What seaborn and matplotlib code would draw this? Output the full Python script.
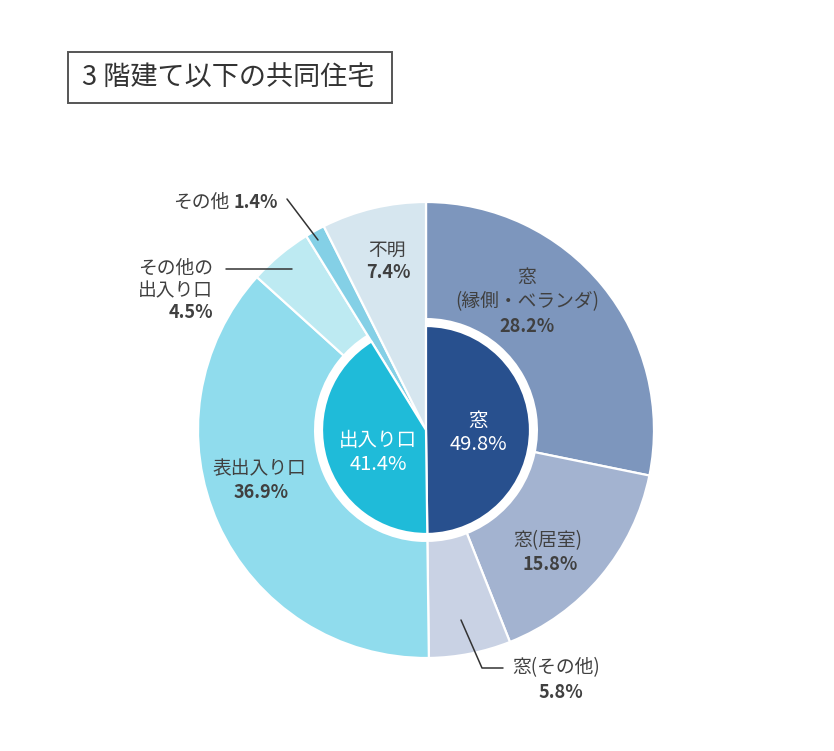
import matplotlib
matplotlib.use("Agg")
import matplotlib.pyplot as plt
from matplotlib.patches import Rectangle
import seaborn as sns

# ---------------- data ----------------
title = "3 階建て以下の共同住宅"
outer_labels = ["窓\n(縁側・ベランダ)", "窓(居室)", "窓(その他)", "表出入り口",
                "その他の\n出入り口", "その他", "不明"]
outer_values = [28.2, 15.8, 5.8, 36.9, 4.5, 1.4, 7.4]
outer_colors = ["#7d96bd", "#a3b3d0", "#c9d2e4", "#90dced", "#bdeaf2", "#84d0e6", "#d6e6ef"]
inner_labels = ["窓", "出入り口"]
inner_values = [49.8, 41.4]
inner_colors = ["#28508e", "#1fbbd9"]

# ---------------- style ----------------
sns.set_theme(style="white")
plt.rcParams["font.family"] = ["Noto Sans CJK JP", "DejaVu Sans"]

W, H = 834, 751
fig = plt.figure(figsize=(W / 100, H / 100), dpi=100)
ax = fig.add_axes([0, 0, 1, 1])

cx, cy = 426, H - 430
R_out, R_ring, R_in = 228, 112, 104
TXT = "#404040"

# outer pie (full wedges)
ax.pie(outer_values, colors=outer_colors, startangle=90, counterclock=False,
       radius=R_out, center=(cx, cy),
       wedgeprops=dict(edgecolor="white", linewidth=1.6))

# white ring behind inner pie
rest = 100 - sum(inner_values)
ring, _ = ax.pie([sum(inner_values), rest], colors=["white", "white"], startangle=90,
                 counterclock=False, radius=R_ring, center=(cx, cy),
                 wedgeprops=dict(linewidth=0))
ring[1].set_visible(False)

# inner pie
inner, _ = ax.pie(inner_values + [rest], colors=inner_colors + ["white"], startangle=90,
                  counterclock=False, radius=R_in, center=(cx, cy),
                  wedgeprops=dict(edgecolor="white", linewidth=1.6))
inner[2].set_visible(False)

ax.set_xlim(0, W)
ax.set_ylim(0, H)
ax.set_aspect("auto")
ax.axis("off")

def T(x, y, s, size=13.5, weight="normal", color=TXT, ha="center", **kw):
    ax.text(x, H - y, s, fontsize=size, fontweight=weight, color=color,
            ha=ha, va="center", **kw)

PB = dict(size=13, weight="bold")
# outer labels
T(527, 277, "窓")
T(527, 302, "(縁側・ベランダ)")
T(527, 326, f"{outer_values[0]}%", **PB)
T(548, 541, "窓(居室)")
T(550, 564, f"{outer_values[1]}%", **PB)
T(556, 668, "窓(その他)")
T(561, 692, f"{outer_values[2]}%", **PB)
T(259, 469, "表出入り口")
T(261, 492, f"{outer_values[3]}%", **PB)
T(213, 268, "その他の", ha="right")
T(213, 291, "出入り口", ha="right")
T(213, 312, f"{outer_values[4]}%", ha="right", **PB)
T(229, 202, "その他", ha="right")
T(278, 202, f"{outer_values[5]}%", ha="right", **PB)
T(387, 250, "不明")
T(388, 273, f"{outer_values[6]}%", **PB)

# inner labels
T(478, 421, inner_labels[0], color="white", size=14)
T(478, 444, f"{inner_values[0]}%", color="white", size=14.5)
T(378, 441, inner_labels[1], color="white", size=14)
T(378, 465, f"{inner_values[1]}%", color="white", size=14.5)

# leader lines
lw = 1.1
ax.plot([461, 482, 503], [H - 620, H - 668, H - 668], color="#333333", lw=lw)
ax.plot([226, 292], [H - 269, H - 269], color="#333333", lw=lw)
ax.plot([287, 318], [H - 199, H - 240], color="#333333", lw=lw)

# title box
fig.patches.append(Rectangle((68 / W, 1 - 103 / H), (392 - 68) / W, (103 - 52) / H,
                             transform=fig.transFigure, fill=False,
                             edgecolor="#555555", linewidth=1.4))
fig.text(82 / W, 1 - 78 / H, title, fontsize=19.5, color="#333333",
         ha="left", va="center")

fig.savefig("out.png", dpi=100, facecolor="white")
